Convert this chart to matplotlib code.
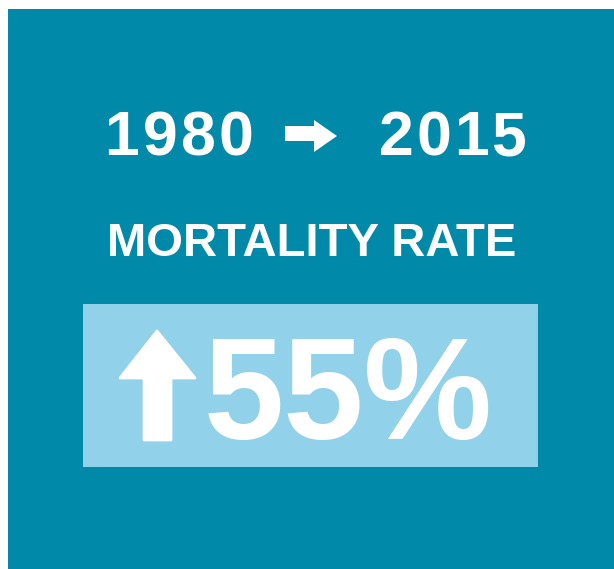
import matplotlib.pyplot as plt
from matplotlib.patches import Rectangle, Polygon

# content
start_year = "1980"
end_year = "2015"
label = "MORTALITY RATE"
change_pct = 55

teal = "#0089a8"
light = "#92d1ea"

fig = plt.figure(figsize=(6.14, 5.69), dpi=100)
ax = fig.add_axes([0, 0, 1, 1])
ax.set_xlim(0, 614)
ax.set_ylim(569, 0)
ax.axis("off")

# background panels
ax.add_patch(Rectangle((8, 9), 606, 560, color=teal, lw=0))
ax.add_patch(Rectangle((83, 304), 455, 163, color=light, lw=0))


def spaced(x0, s, pitch=38):
    # draw digits one by one to get the wide tracking of the original
    for i, ch in enumerate(s):
        ax.text(x0 + i * pitch, 155, ch, color="white", fontsize=45,
                fontweight="bold", family="Liberation Sans",
                ha="center", va="baseline")


spaced(122, start_year)
spaced(396, end_year, pitch=37.5)
ax.add_patch(Polygon([(285, 126), (314, 126), (314, 120), (337, 136),
                      (314, 152), (314, 141), (285, 141)],
                     closed=True, color="white", lw=0))

ax.text(312, 256, label, color="white", fontsize=34, fontweight="bold",
        family="Liberation Sans", ha="center", va="baseline")

# up arrow
ax.add_patch(Polygon([(157, 331), (195, 378), (171, 378), (171, 440),
                      (144, 440), (144, 378), (120, 378)],
                     closed=True, facecolor="white", edgecolor="white",
                     lw=2, joinstyle="round"))

ax.text(204, 439, f"{change_pct}%", color="white", fontsize=104, fontweight="bold",
        family="Liberation Sans", ha="left", va="baseline")

fig.savefig("out.png", dpi=100, facecolor="white")
